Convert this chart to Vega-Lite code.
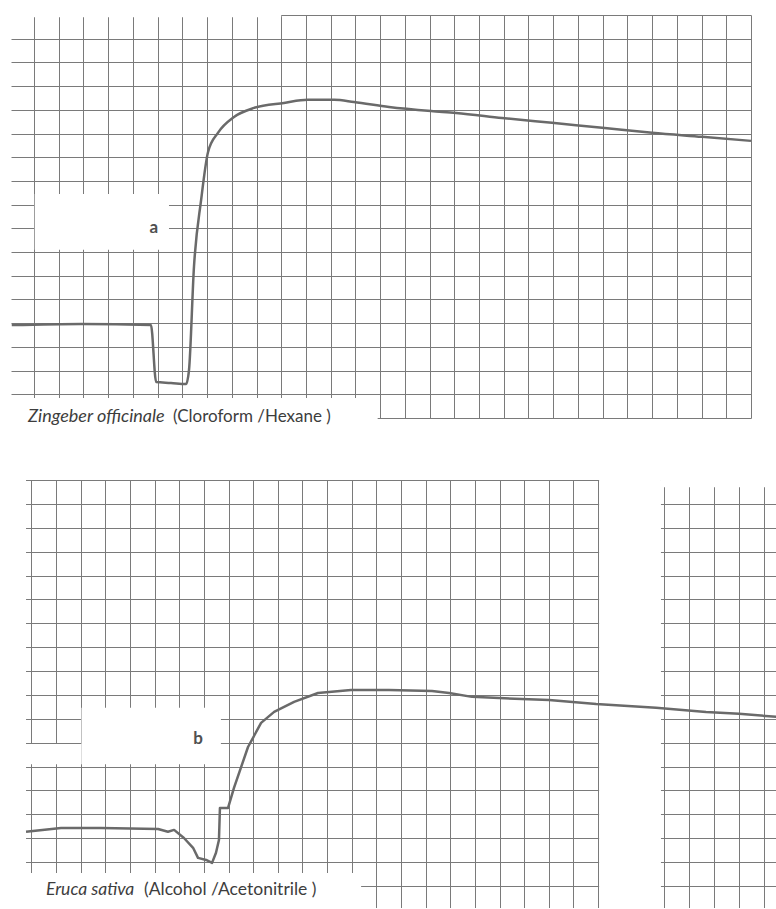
{
  "$schema": "https://vega.github.io/schema/vega-lite/v6.json",
  "padding": {"left": 10, "top": 15, "right": 0, "bottom": 0},
  "background": "white",
  "bounds": "flush",
  "spacing": 62,
  "config": {
    "view": {"stroke": null},
    "axis": {"grid": true, "gridColor": "#7a7a7a", "gridWidth": 1, "labels": false, "ticks": false, "domain": false, "title": null}
  },
  "vconcat": [
    {
      "width": 740,
      "height": 403,
      "encoding": {
        "x": {"field": "x", "type": "quantitative", "scale": {"domain": [-0.93, 29], "nice": false, "zero": false},
              "axis": {"values": [0,1,2,3,4,5,6,7,8,9,10,11,12,13,14,15,16,17,18,19,20,21,22,23,24,25,26,27,28,29]}},
        "y": {"field": "y", "type": "quantitative", "scale": {"domain": [0, 17], "nice": false, "zero": false},
              "axis": {"values": [0,1,2,3,4,5,6,7,8,9,10,11,12,13,14,15,16,17]}}
      },
      "layer": [
        {
          "data": {"values": [
            {"x": -0.93, "x2": 13.9, "y": -0.93, "y2": 0.84},
            {"x": 0.03, "x2": 5.46, "y": 7.1, "y2": 9.45},
            {"x": -0.93, "x2": 10.0, "y": 16.9, "y2": 17.0}
          ]},
          "mark": {"type": "rect", "color": "white"},
          "encoding": {
            "x2": {"field": "x2"},
            "y2": {"field": "y2"}
          }
        },
        {
          "data": {"values": [
            {"x": -0.9, "y": 3.92}, {"x": 1.9, "y": 3.97}, {"x": 4.73, "y": 3.92},
            {"x": 4.94, "y": 1.52}, {"x": 5.54, "y": 1.48}, {"x": 6.15, "y": 1.43},
            {"x": 6.27, "y": 2.03}, {"x": 6.47, "y": 6.37}, {"x": 6.76, "y": 9.2},
            {"x": 7.04, "y": 11.22}, {"x": 7.44, "y": 12.03}, {"x": 8.09, "y": 12.7},
            {"x": 8.9, "y": 13.08}, {"x": 10.11, "y": 13.29}, {"x": 11.08, "y": 13.42},
            {"x": 12.14, "y": 13.42}, {"x": 12.94, "y": 13.33}, {"x": 14.36, "y": 13.12},
            {"x": 16.06, "y": 12.95}, {"x": 17.07, "y": 12.87}, {"x": 18.93, "y": 12.66},
            {"x": 20.95, "y": 12.45}, {"x": 22.98, "y": 12.24}, {"x": 25.0, "y": 12.03},
            {"x": 27.02, "y": 11.86}, {"x": 29.0, "y": 11.69}
          ]},
          "mark": {"type": "line", "color": "#6a6a6a", "strokeWidth": 2.5, "strokeJoin": "round", "interpolate": "monotone"},
          "encoding": {
            "order": {"field": "x", "type": "quantitative"}
          }
        },
        {
          "data": {"values": [{"x": 4.85, "y": 8.02, "t": "a"}]},
          "mark": {"type": "text", "font": "Lato", "fontSize": 17, "fontWeight": "bold", "color": "#505050", "align": "center", "baseline": "middle"},
          "encoding": {"text": {"field": "t"}}
        },
        {
          "data": {"values": [{"x": -0.24, "y": -0.17, "t": "Zingeber officinale"}]},
          "mark": {"type": "text", "font": "Lato", "fontSize": 18, "fontStyle": "italic", "color": "#3d3d3d", "align": "left", "baseline": "alphabetic"},
          "encoding": {"text": {"field": "t"}}
        },
        {
          "data": {"values": [{"x": 5.62, "y": -0.17, "t": "(Cloroform /Hexane )"}]},
          "mark": {"type": "text", "font": "Lato", "fontSize": 17, "color": "#3d3d3d", "align": "left", "baseline": "alphabetic"},
          "encoding": {"text": {"field": "t"}}
        }
      ]
    },
    {
      "width": 766,
      "height": 428,
      "encoding": {
        "x": {"field": "x", "type": "quantitative", "scale": {"domain": [-0.83, 30.26], "nice": false, "zero": false},
              "axis": {"values": [0,1,2,3,4,5,6,7,8,9,10,11,12,13,14,15,16,17,18,19,20,21,22,23,25.67,26.68,27.7,28.71,29.73]}},
        "y": {"field": "y", "type": "quantitative", "scale": {"domain": [0.08, 18], "nice": false, "zero": false},
              "axis": {"values": [1,2,3,4,5,6,7,8,9,10,11,12,13,14,15,16,17,18]}}
      },
      "layer": [
        {
          "data": {"values": [
            {"x": -0.83, "x2": -0.22, "y": 0.08, "y2": 18},
            {"x": 23.04, "x2": 25.55, "y": 0.08, "y2": 18},
            {"x": -0.83, "x2": 13.38, "y": 0.08, "y2": 1.55},
            {"x": 2.03, "x2": 7.69, "y": 6.1, "y2": 8.46},
            {"x": -0.22, "x2": 2.03, "y": 6.1, "y2": 6.95},
            {"x": 25.55, "x2": 30.26, "y": 17.7, "y2": 18}
          ]},
          "mark": {"type": "rect", "color": "white"},
          "encoding": {
            "x2": {"field": "x2"},
            "y2": {"field": "y2"}
          }
        },
        {
          "data": {"values": [
            {"x": -0.22, "y": 3.27}, {"x": 1.2, "y": 3.43}, {"x": 2.82, "y": 3.43},
            {"x": 5.14, "y": 3.39}, {"x": 5.54, "y": 3.27}, {"x": 5.79, "y": 3.35},
            {"x": 6.19, "y": 3.01}, {"x": 6.56, "y": 2.6}, {"x": 6.76, "y": 2.18},
            {"x": 7.09, "y": 2.09}, {"x": 7.33, "y": 1.97}, {"x": 7.49, "y": 2.39},
            {"x": 7.61, "y": 2.93}, {"x": 7.65, "y": 4.27}, {"x": 7.98, "y": 4.27},
            {"x": 8.22, "y": 5.11}, {"x": 8.79, "y": 6.82}, {"x": 9.32, "y": 7.83},
            {"x": 9.85, "y": 8.29}, {"x": 10.66, "y": 8.71}, {"x": 11.63, "y": 9.08},
            {"x": 12.97, "y": 9.21}, {"x": 14.51, "y": 9.21}, {"x": 16.26, "y": 9.17},
            {"x": 16.95, "y": 9.08}, {"x": 17.88, "y": 8.92}, {"x": 18.98, "y": 8.87},
            {"x": 21.01, "y": 8.79}, {"x": 22.92, "y": 8.62}, {"x": 25.35, "y": 8.46},
            {"x": 27.38, "y": 8.29}, {"x": 28.72, "y": 8.21}, {"x": 30.26, "y": 8.08}
          ]},
          "mark": {"type": "line", "color": "#6a6a6a", "strokeWidth": 2.5, "strokeJoin": "round"},
          "encoding": {
            "order": {"field": "x", "type": "quantitative"}
          }
        },
        {
          "data": {"values": [{"x": 6.76, "y": 7.16, "t": "b"}]},
          "mark": {"type": "text", "font": "Lato", "fontSize": 17, "fontWeight": "bold", "color": "#505050", "align": "center", "baseline": "middle"},
          "encoding": {"text": {"field": "t"}}
        },
        {
          "data": {"values": [{"x": 0.59, "y": 0.63, "t": "Eruca sativa"}]},
          "mark": {"type": "text", "font": "Lato", "fontSize": 17.5, "fontStyle": "italic", "color": "#3d3d3d", "align": "left", "baseline": "alphabetic"},
          "encoding": {"text": {"field": "t"}}
        },
        {
          "data": {"values": [{"x": 4.57, "y": 0.63, "t": "(Alcohol /Acetonitrile )"}]},
          "mark": {"type": "text", "font": "Lato", "fontSize": 17.5, "color": "#3d3d3d", "align": "left", "baseline": "alphabetic"},
          "encoding": {"text": {"field": "t"}}
        }
      ]
    }
  ]
}
